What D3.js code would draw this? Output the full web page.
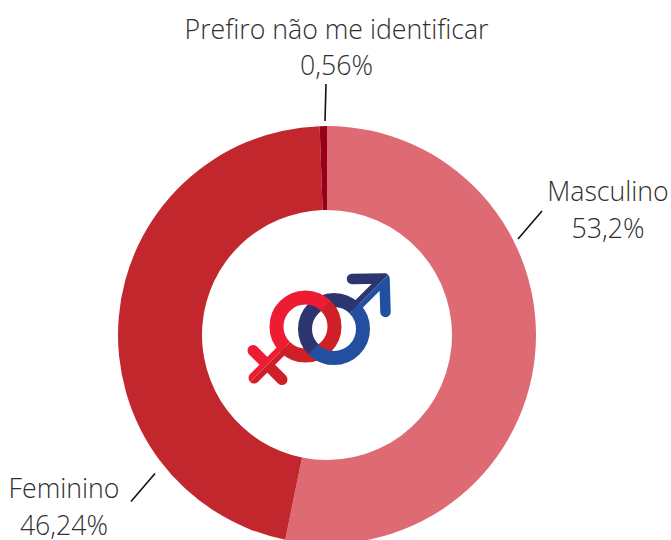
<!DOCTYPE html>
<html><head><meta charset="utf-8">
<script src="https://cdn.jsdelivr.net/npm/d3@7"></script>
<style>html,body{margin:0;padding:0;background:#fff;overflow:hidden}svg{display:block}
text{font-family:"Open Sans";font-weight:300;fill:#2f2f2f;font-size:26.7px;text-anchor:middle}</style>
</head><body><svg id="c" width="671" height="540"></svg>
<script>
const categories = ["Masculino", "Feminino", "Prefiro não me identificar"];
const values = [53.2, 46.24, 0.56];
const valueLabels = ["53,2%", "46,24%", "0,56%"];
const colors = ["#de6a73", "#c1272d", "#960018"];

const svg = d3.select("#c");
const cx = 327, cy = 335, outer = 209, inner = 125;
const pie = d3.pie().sort(null).value(d => d)(values);
const arc = d3.arc().innerRadius(inner).outerRadius(outer);
svg.append("g").attr("transform", `translate(${cx},${cy})`)
  .selectAll("path").data(pie).join("path")
  .attr("d", arc).attr("fill", (d, i) => colors[i]);

// labels: centre x, first baseline, second baseline, leader line
const layout = [
  {x: 608, y: 201, y2: 238, line: [[542, 211], [518, 239]]},
  {x: 64,  y: 498, y2: 535, line: [[155, 473.5], [131, 501.5]]},
  {x: 336.5, y: 39, y2: 75, line: [[326, 84], [325, 121]]}
];
layout.forEach((l, i) => {
  svg.append("text").attr("x", l.x).attr("y", l.y).text(categories[i]);
  svg.append("text").attr("x", l.x).attr("y", l.y2).text(valueLabels[i]);
  svg.append("path").attr("d", d3.line()(l.line)).attr("stroke", "#111").attr("stroke-width", 1.6).attr("fill", "none");
});

// central gender icon, two-toned along its diagonal
const defs = svg.append("defs");
const halfPlane = (id, pts) => defs.append("clipPath").attr("id", id).append("polygon").attr("points", pts.join(" "));
const fx = 305.5, fy = 326.5, mx = 334, my = 329, R = 29, sw = 14;
const big = 200;
const ul = (x, y) => [[x - big, y + big], [x + big, y - big], [x - big, y - big]];
const lr = (x, y) => [[x - big, y + big], [x + big, y - big], [x + big, y + big]];
halfPlane("fUL", ul(fx, fy)); halfPlane("fLR", lr(fx, fy));
halfPlane("mUL", ul(mx, my)); halfPlane("mLR", lr(mx, my));

function female(g) {
  g.append("circle").attr("cx", fx).attr("cy", fy).attr("r", R).attr("fill", "none").attr("stroke-width", sw);
  g.append("path").attr("fill", "none").attr("stroke-width", 11).attr("stroke-linecap", "round")
   .attr("d", `M${fx - 24},${fy + 24} L254,378 M253,350.5 L282,379.5`);
}
function male(g) {
  g.append("circle").attr("cx", mx).attr("cy", my).attr("r", R).attr("fill", "none").attr("stroke-width", sw);
  g.append("path").attr("fill", "none").attr("stroke-width", 10.5).attr("stroke-linecap", "round").attr("stroke-linejoin", "round")
   .attr("d", `M${mx + 22},${my - 22} L384,279 M352,279 L384.5,278.5 L385.5,312`);
}
function maleCrossing(g) {
  const p = d3.path();
  const toRad = a => (a - 90) * Math.PI / 180;
  p.arc(mx, my, R, toRad(185), toRad(240));
  g.append("path").attr("d", p.toString()).attr("fill", "none").attr("stroke-width", sw);
}
male(svg.append("g").attr("clip-path", "url(#mUL)").attr("stroke", "#2c3570"));
male(svg.append("g").attr("clip-path", "url(#mLR)").attr("stroke", "#234fa0"));
female(svg.append("g").attr("clip-path", "url(#fUL)").attr("stroke", "#ee1c32"));
female(svg.append("g").attr("clip-path", "url(#fLR)").attr("stroke", "#cf2027"));
// interlock: male ring passes back over the female ring at the lower crossing
maleCrossing(svg.append("g").attr("clip-path", "url(#mUL)").attr("stroke", "#2c3570"));
maleCrossing(svg.append("g").attr("clip-path", "url(#mLR)").attr("stroke", "#234fa0"));
</script></body></html>
